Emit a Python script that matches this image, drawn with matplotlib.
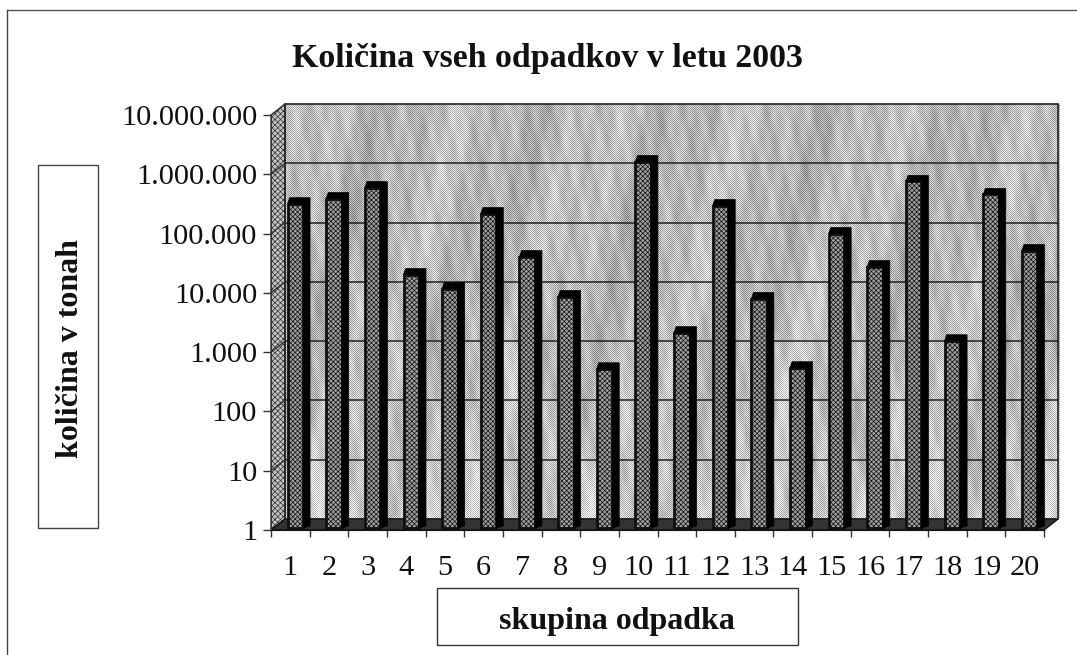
# Kolicina odpadkov 2003 - 3D looking log bar chart, scanned look
import numpy as np
import matplotlib
matplotlib.use('Agg')
import matplotlib.pyplot as plt
from matplotlib.patches import Polygon, Rectangle
from matplotlib.transforms import Affine2D, IdentityTransform
from matplotlib.ticker import FixedLocator, NullFormatter

plt.rcParams['font.family'] = ['Liberation Serif', 'DejaVu Serif']
plt.rcParams['hatch.linewidth'] = 0.5

skupine = [str(i) for i in range(1, 21)]
kolicine = [295000, 361000, 553000, 18800, 10900, 201000, 37800, 8000, 485, 1520000,
            1970, 275000, 7400, 505, 92500, 25600, 700000, 1440, 422000, 47800]
y_ticks = [1, 10, 100, 1000, 10000, 100000, 1000000, 10000000]
y_labels = ['1', '10', '100', '1.000', '10.000', '100.000', '1.000.000', '10.000.000']

naslov = 'Količina vseh odpadkov v letu 2003'
x_naslov = 'skupina odpadka'
y_naslov = 'količina v tonah'

W, H = 1077, 655
fig = plt.figure(figsize=(W / 100, H / 100), dpi=100, facecolor='white')

# front plane of the 3D box in pixels
L, R, T, B = 271, 1044, 115, 530
ax = fig.add_axes([L / W, 1 - B / H, (R - L) / W, (B - T) / H])
ax.patch.set_visible(False)

# back wall offset, bar offset, bar depth (pixels)
DX, DY = 14, 11
back = ax.transData + Affine2D().translate(DX, DY)
bar_off = ax.transData + Affine2D().translate(5, 2)
SIDE_X, SIDE_Y = 7, 6

# back wall texture (only decoration, no data): soft blotches plus a fine checker
wall_h, wall_w = 415, 775
yy, xx = np.mgrid[0:wall_h, 0:wall_w]
mottle = (0.72 + 0.035 * np.sin(xx / 23 + yy / 60) + 0.03 * np.sin(xx / 9.0 + yy / 38 + 1)
          + 0.03 * np.sin(xx / 4.3 - yy / 21) + 0.025 * np.sin(xx / 2.7 + yy / 13 + 2)
          + 0.02 * np.sin(xx / 1.9 - yy / 7 + 4) + 0.08 * (yy / wall_h) ** 3)
checker = np.where((xx + yy) % 2 == 0, 0.13, -0.13)
fig.figimage(np.clip(mottle + checker, 0, 1), xo=285, yo=H - 519, cmap='gray', vmin=0, vmax=1,
             zorder=-5, origin='upper')

ax.set_xlim(0.5, 20.5)
ax.set_yscale('log')
ax.set_ylim(1, 1e7)
fig.canvas.draw()

# side wall and floor
ax.add_patch(Polygon([(L, H - B), (L + DX, H - B + DY), (L + DX, H - T + DY), (L, H - T)],
                     transform=IdentityTransform(), facecolor='#c4c4c4', edgecolor='#303030',
                     lw=1, hatch='xxxxxx', clip_on=False, zorder=1))
ax.add_patch(Polygon([(L, H - B), (R, H - B), (R + DX, H - B + DY), (L + DX, H - B + DY)],
                     transform=IdentityTransform(), facecolor='#333333', edgecolor='#111111',
                     lw=1, clip_on=False, zorder=2))
ax.add_patch(Rectangle((L + DX, H - T + DY - (B - T)), R - L, B - T, transform=IdentityTransform(),
                       fill=False, edgecolor='#222222', lw=1.2, clip_on=False, zorder=2))

# gridlines on the wall, with the short diagonal on the side wall
for v in y_ticks[1:-1]:
    ax.plot([0.5, 20.5], [v, v], color='#222222', lw=1.1, transform=back, clip_on=False, zorder=2)
    p = ax.transData.transform((0.5, v))
    ax.plot([p[0], p[0] + DX], [p[1], p[1] + DY], color='#333333', lw=1,
            transform=IdentityTransform(), clip_on=False, zorder=2)

# bars: front face through the log scale, black side and top from the same points
x = np.arange(1, 21)
hw = 0.2
ax.bar(x, kolicine, width=hw * 2, bottom=1, transform=bar_off, facecolor='#a0a0a0', edgecolor='#101010',
       hatch='xxxxxxx', lw=2, clip_on=False, zorder=4)
for xi, v in zip(x, kolicine):
    x1, y1 = bar_off.transform((xi + hw, v))
    x0, _ = bar_off.transform((xi - hw, v))
    _, y0 = bar_off.transform((xi + hw, 1))
    pts = [(x0, y1), (x0 + 2, y1 + SIDE_Y), (x1 + SIDE_X, y1 + SIDE_Y),
           (x1 + SIDE_X, y0 + 2), (x1, y0), (x1, y1)]
    ax.add_patch(Polygon(pts, transform=IdentityTransform(), facecolor='black', edgecolor='black',
                         lw=0.5, clip_on=False, zorder=5))

# axes and ticks
for s in ['top', 'right']:
    ax.spines[s].set_visible(False)
ax.spines['left'].set_color('#333333')
ax.spines['bottom'].set_color('#111111')
ax.spines['left'].set_zorder(6)
ax.spines['bottom'].set_zorder(6)
ax.set_yticks(y_ticks)
ax.set_yticklabels(y_labels, fontsize=21.9, color='#111111')
ax.yaxis.set_minor_locator(FixedLocator([]))
ax.tick_params(axis='y', which='major', length=6, width=1, pad=4, color='#333333')
ax.xaxis.set_major_locator(FixedLocator(np.arange(0.5, 21, 1)))
ax.xaxis.set_major_formatter(NullFormatter())
ax.set_xticks(x, minor=True)
ax.set_xticklabels(skupine, minor=True, fontsize=21.9, color='#111111')
ax.tick_params(axis='x', which='major', length=5, width=1, color='#333333')
ax.tick_params(axis='x', which='minor', length=0, pad=18)

# outer frame, only top and left survive in the scan
fig.add_artist(plt.Line2D([7 / W, 7 / W], [0, 1 - 10 / H], color='#444444', lw=1))
fig.add_artist(plt.Line2D([7 / W, 1], [1 - 10 / H, 1 - 10 / H], color='#555555', lw=1))

# title and boxed axis titles
fig.text(547 / W, 1 - 59 / H, naslov, fontsize=24.4, fontweight='bold', ha='center', va='center', color='#111111')
fig.add_artist(Rectangle((37.5 / W, 1 - 528 / H), 60 / W, 363 / H, transform=fig.transFigure,
                         fill=False, edgecolor='#444444', lw=1))
fig.add_artist(Rectangle((436.5 / W, 1 - 645 / H), 361 / W, 57 / H, transform=fig.transFigure,
                         fill=False, edgecolor='#333333', lw=1))
fig.text(71 / W, 1 - 349 / H, y_naslov, fontsize=23, fontweight='bold', rotation=90,
         ha='center', va='center', color='#111111')
fig.text(617 / W, 1 - 621 / H, x_naslov, fontsize=23, fontweight='bold', ha='center', va='center',
         color='#111111')

fig.savefig('out.png', dpi=100)
